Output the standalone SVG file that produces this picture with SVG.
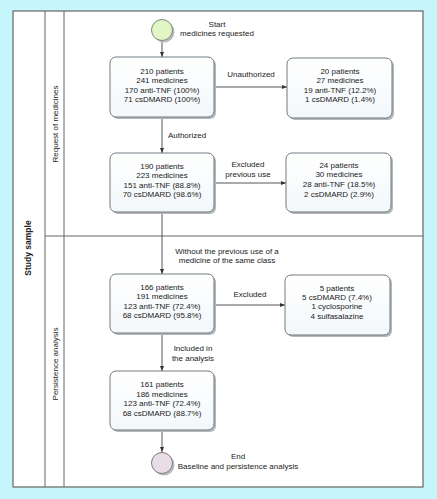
<svg xmlns="http://www.w3.org/2000/svg" width="437" height="499" viewBox="0 0 437 499">
<defs>
<marker id="arr" markerWidth="6" markerHeight="6" refX="5" refY="3" orient="auto" markerUnits="userSpaceOnUse">
<path d="M0,1 L5,3 L0,5 Z" fill="#333"/>
</marker>
<linearGradient id="bg" x1="0" y1="0" x2="0" y2="1">
<stop offset="0" stop-color="#ffffff"/>
<stop offset="1" stop-color="#f3f8fb"/>
</linearGradient>
</defs>
<style>
text{font-family:"Liberation Sans",Arial,sans-serif;font-size:8px;fill:#222;text-anchor:middle}
.box{fill:url(#bg);stroke:#6f7a80;stroke-width:1}
.sh{fill:#b4b8ba}
.ln{stroke:#444;stroke-width:0.9;fill:none}
.frame{stroke:#666;stroke-width:1.2;fill:#fff}
.grid{stroke:#666;stroke-width:1;fill:none}
</style>
<rect x="0" y="0" width="437" height="499" fill="#c6f6fb"/>
<g id="pool">
<rect class="frame" x="13" y="11" width="410" height="476"/>
<line class="grid" x1="45" y1="11" x2="45" y2="487"/>
<line class="grid" x1="64" y1="11" x2="64" y2="487"/>
<line class="grid" x1="45" y1="236" x2="423" y2="236"/>
<text x="0" y="0" transform="translate(31,248) rotate(-90)" style="font-weight:bold;font-size:8.5px">Study sample</text>
<text x="0" y="0" transform="translate(58,124) rotate(-90)">Request of medicines</text>
<text x="0" y="0" transform="translate(58,364) rotate(-90)">Persistence analysis</text>
</g>
<g id="connectors">
<line class="ln" x1="162" y1="41" x2="162" y2="57" marker-end="url(#arr)"/>
<line class="ln" x1="162" y1="117" x2="162" y2="153" marker-end="url(#arr)"/>
<line class="ln" x1="162" y1="212" x2="162" y2="274" marker-end="url(#arr)"/>
<line class="ln" x1="162" y1="333" x2="162" y2="371" marker-end="url(#arr)"/>
<line class="ln" x1="162" y1="430" x2="162" y2="452" marker-end="url(#arr)"/>
<line class="ln" x1="214" y1="87" x2="287" y2="87" marker-end="url(#arr)"/>
<line class="ln" x1="214" y1="183" x2="286" y2="183" marker-end="url(#arr)"/>
<line class="ln" x1="214" y1="305" x2="285" y2="305" marker-end="url(#arr)"/>
<text x="187" y="138">Authorized</text>
<text x="251" y="77">Unauthorized</text>
<text x="248" y="167">Excluded</text>
<text x="248" y="177">previous use</text>
<text x="227" y="253.5">Without the previous use of a</text>
<text x="227" y="263">medicine of the same class</text>
<text x="250" y="297">Excluded</text>
<text x="193" y="351">Included in</text>
<text x="193" y="360.5">the analysis</text>
</g>
<g id="start">
<circle cx="164" cy="32" r="10.5" fill="#b9bcbd"/>
<circle cx="162" cy="30" r="10.5" fill="#e2f5c4" stroke="#7a8a80" stroke-width="1"/>
<text x="217" y="27">Start</text>
<text x="217" y="36">medicines requested</text>
</g>
<g id="n1">
<rect class="sh" x="112" y="59" width="104" height="60" rx="6"/>
<rect class="box" x="110" y="57" width="104" height="60" rx="6"/>
<text x="162" y="73.5">210 patients</text>
<text x="162" y="83">241 medicines</text>
<text x="162" y="92.5">170 anti-TNF (100%)</text>
<text x="162" y="102">71 csDMARD (100%)</text>
</g>
<g id="n1r">
<rect class="sh" x="289" y="60" width="105" height="60" rx="6"/>
<rect class="box" x="287" y="58" width="105" height="60" rx="6"/>
<text x="340" y="73.5">20 patients</text>
<text x="340" y="83">27 medicines</text>
<text x="340" y="92.5">19 anti-TNF (12.2%)</text>
<text x="340" y="102">1 csDMARD (1.4%)</text>
</g>
<g id="n2">
<rect class="sh" x="112" y="155" width="104" height="59" rx="6"/>
<rect class="box" x="110" y="153" width="104" height="59" rx="6"/>
<text x="162" y="168.5">190 patients</text>
<text x="162" y="178">223 medicines</text>
<text x="162" y="187.5">151 anti-TNF (88.8%)</text>
<text x="162" y="197">70 csDMARD (98.6%)</text>
</g>
<g id="n2r">
<rect class="sh" x="288" y="155" width="105" height="59" rx="6"/>
<rect class="box" x="286" y="153" width="105" height="59" rx="6"/>
<text x="339" y="167.5">24 patients</text>
<text x="339" y="177">30 medicines</text>
<text x="339" y="187">28 anti-TNF (18.5%)</text>
<text x="339" y="197">2 csDMARD (2.9%)</text>
</g>
<g id="n3">
<rect class="sh" x="112" y="276" width="104" height="59" rx="6"/>
<rect class="box" x="110" y="274" width="104" height="59" rx="6"/>
<text x="162" y="289.5">166 patients</text>
<text x="162" y="299">191 medicines</text>
<text x="162" y="309">123 anti-TNF (72.4%)</text>
<text x="162" y="318">68 csDMARD (95.8%)</text>
</g>
<g id="n3r">
<rect class="sh" x="287" y="277" width="105" height="60" rx="6"/>
<rect class="box" x="285" y="275" width="105" height="60" rx="6"/>
<text x="337" y="290.5">5 patients</text>
<text x="337" y="300">5 csDMARD (7.4%)</text>
<text x="337" y="309">1 cyclosporine</text>
<text x="337" y="318.5">4 sulfasalazine</text>
</g>
<g id="n4">
<rect class="sh" x="112" y="373" width="104" height="59" rx="6"/>
<rect class="box" x="110" y="371" width="104" height="59" rx="6"/>
<text x="162" y="387">161 patients</text>
<text x="162" y="396.5">186 medicines</text>
<text x="162" y="406">123 anti-TNF (72.4%)</text>
<text x="162" y="415.5">68 csDMARD (88.7%)</text>
</g>
<g id="end">
<circle cx="164" cy="465" r="10.5" fill="#b9bcbd"/>
<circle cx="162" cy="463" r="10.5" fill="#eadde6" stroke="#7a7a80" stroke-width="1"/>
<text x="238" y="459">End</text>
<text x="238" y="469">Baseline and persistence analysis</text>
</g>
</svg>
